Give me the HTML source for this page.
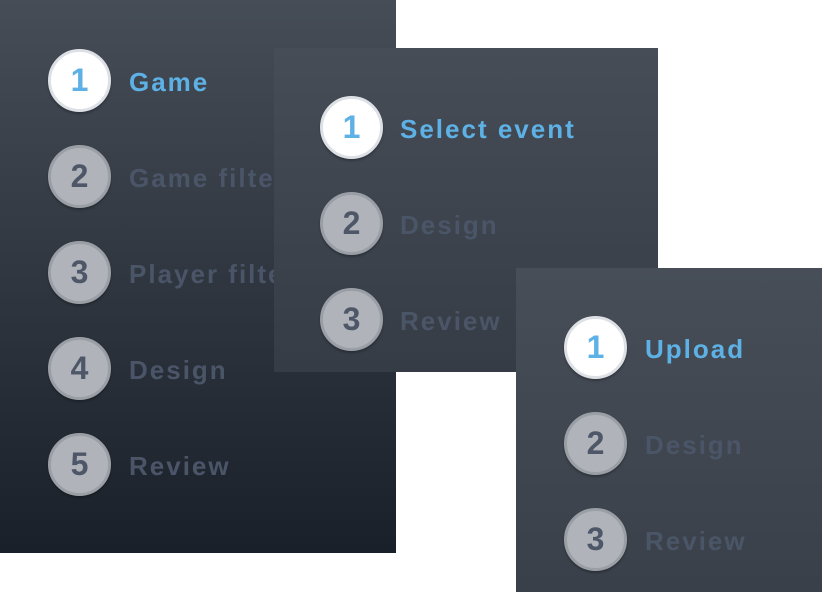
<!DOCTYPE html>
<html><head><style>
body{margin:0;width:824px;height:592px;background:#fff;position:relative;overflow:hidden;font-family:"Liberation Sans",sans-serif;}
.p{position:absolute;}
.c{position:absolute;width:63px;height:63px;border-radius:50%;box-sizing:border-box;display:flex;align-items:center;justify-content:center;font-weight:bold;font-size:32px;box-shadow:0 2px 2px rgba(0,0,0,.25);}
.a{background:#fff;border:3px solid #dde1e6;color:#5db1e5;}
.i{background:#b0b4ba;border:3px solid #9a9fa6;color:#4d5768;}
.t{position:absolute;font-weight:bold;font-size:26px;letter-spacing:2px;line-height:26px;white-space:nowrap;}
.ta{color:#5db1e5}.ti{color:#4a5567}
</style></head><body>
<div class="p" style="left:0;top:0;width:396px;height:553px;background:linear-gradient(#464d57,#1a202a);overflow:hidden">
<div class="c a" style="left:48px;top:49px">1</div><div class="t ta" style="left:129px;top:69px">Game</div>
<div class="c i" style="left:48px;top:145px">2</div><div class="t ti" style="left:129px;top:165px">Game filter</div>
<div class="c i" style="left:48px;top:241px">3</div><div class="t ti" style="left:129px;top:261px">Player filter</div>
<div class="c i" style="left:48px;top:337px">4</div><div class="t ti" style="left:129px;top:357px">Design</div>
<div class="c i" style="left:48px;top:433px">5</div><div class="t ti" style="left:129px;top:453px">Review</div>
</div>
<div class="p" style="left:274px;top:48px;width:384px;height:324px;background:linear-gradient(#464d57,#363c46)">
<div class="c a" style="left:46px;top:48px">1</div><div class="t ta" style="left:126px;top:68px">Select event</div>
<div class="c i" style="left:46px;top:144px">2</div><div class="t ti" style="left:126px;top:164px">Design</div>
<div class="c i" style="left:46px;top:240px">3</div><div class="t ti" style="left:126px;top:260px">Review</div>
</div>
<div class="p" style="left:516px;top:268px;width:306px;height:324px;background:linear-gradient(#474e58,#3a4049)">
<div class="c a" style="left:48px;top:48px">1</div><div class="t ta" style="left:129px;top:68px">Upload</div>
<div class="c i" style="left:48px;top:144px">2</div><div class="t ti" style="left:129px;top:164px">Design</div>
<div class="c i" style="left:48px;top:240px">3</div><div class="t ti" style="left:129px;top:260px">Review</div>
</div>
</body></html>
